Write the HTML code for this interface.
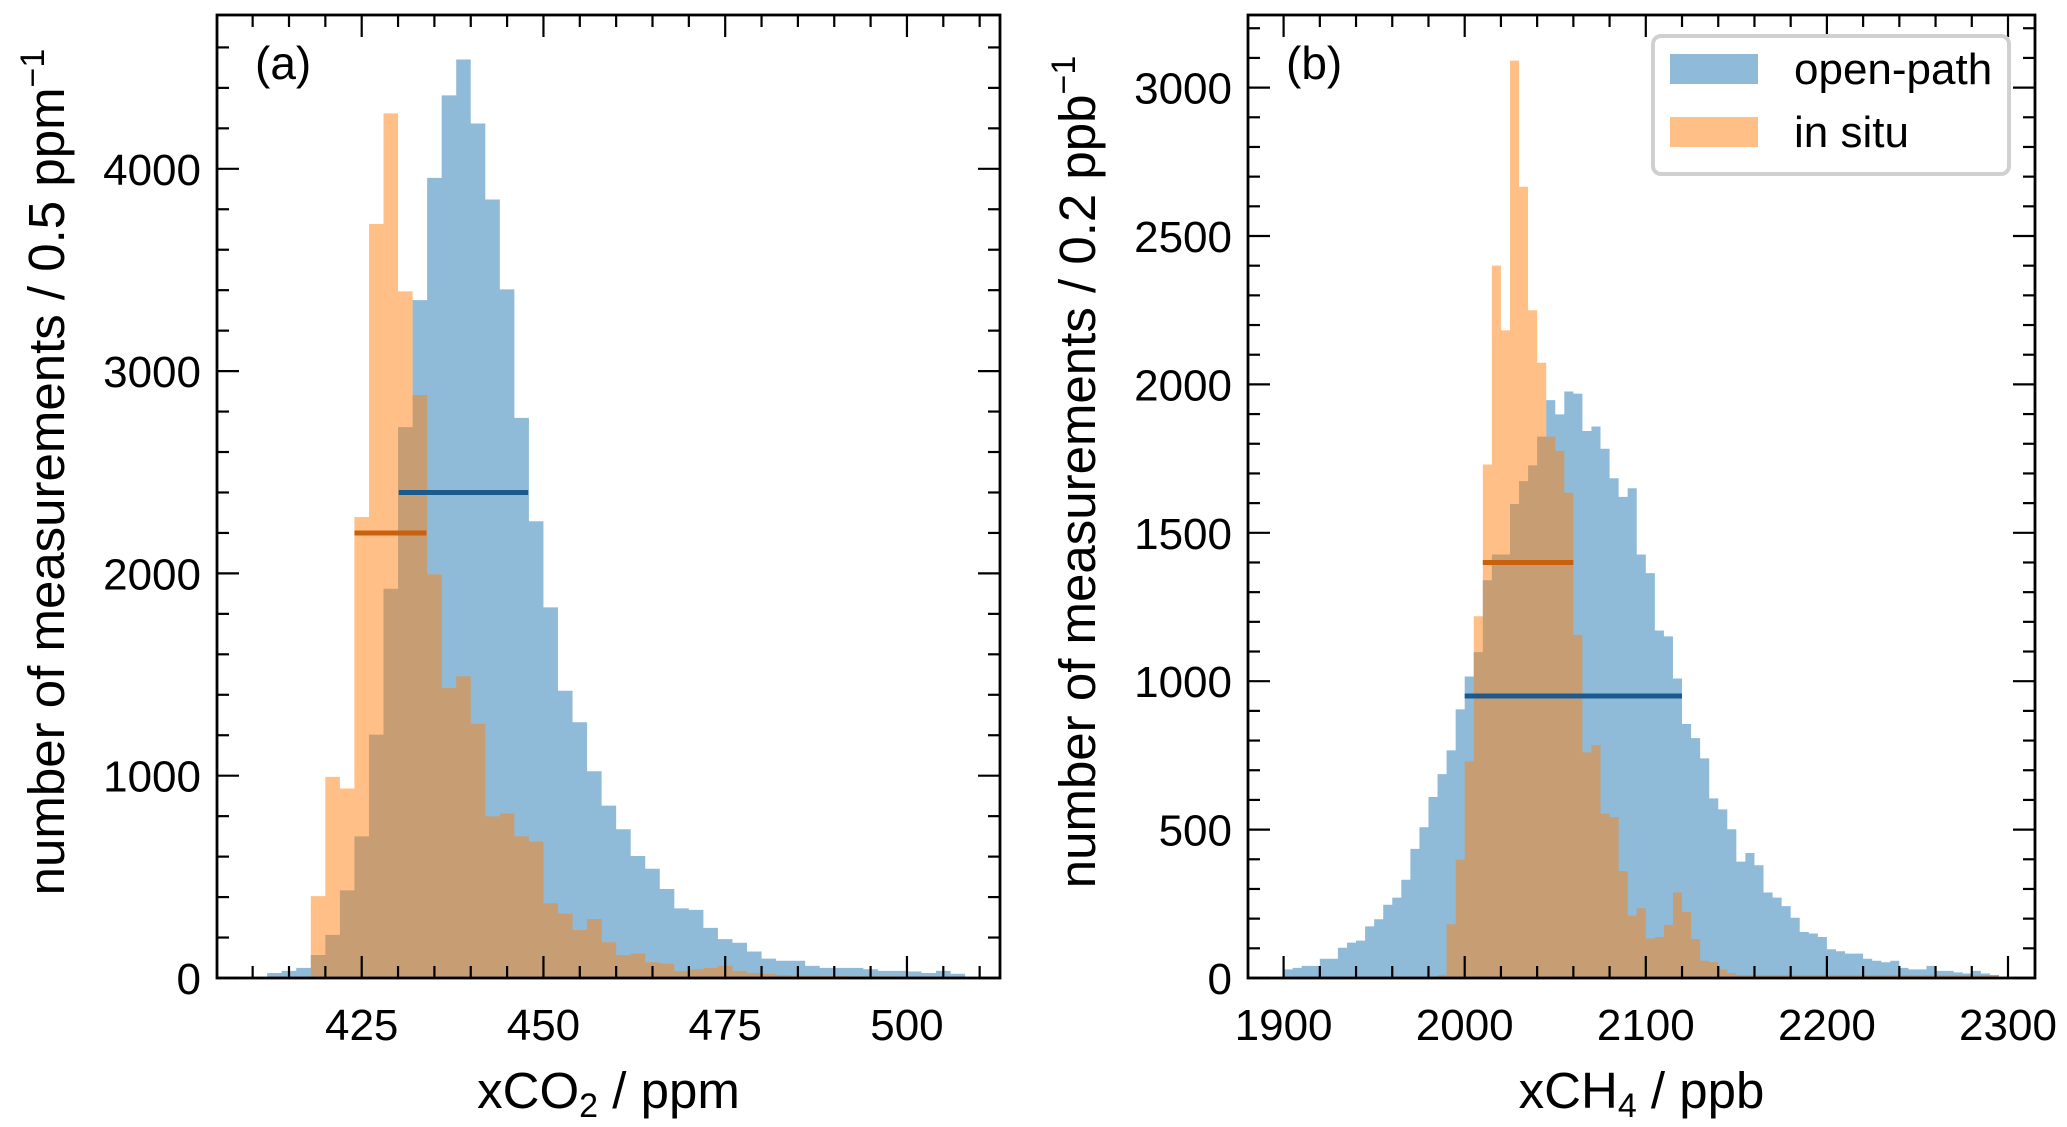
<!DOCTYPE html>
<html><head><meta charset="utf-8"><style>
html,body{margin:0;padding:0;background:#fff;}
svg{display:block;font-family:"Liberation Sans",Arial,sans-serif;}
</style></head><body>
<svg id="fig" width="2067" height="1127" viewBox="0 0 2067 1127" xmlns="http://www.w3.org/2000/svg">
<g id="pa"></g>
<g id="pb"></g>
</svg>
<script>
// ---- Panel (a) CO2 data ----
const co2BinStart = 410;
const co2BinWidth = 2;
const co2OpenPath = [5,25,35,50,114,213,433,700,1203,1924,2723,3351,3955,4363,4540,4224,3848,3404,2769,2258,1832,1420,1264,1022,852,735,603,540,440,344,337,248,192,174,131,96,85,85,60,50,50,50,43,35,35,32,25,35,21];
const co2InSituStart = 418;
const co2InSitu = [405,994,937,2279,3727,4274,3394,2882,1995,1434,1491,1257,799,813,700,674,369,319,238,291,177,114,121,78,71,35,43,50,60,35,25,20,15,12,12,10,10,8,8,8,6,6,5,5,4,4];
const co2XTicks = [425,450,475,500];
const co2YTicks = [0,1000,2000,3000,4000];
const co2OpenIQR = [430.1,447.9,2400];
const co2InSituIQR = [424.0,433.9,2200];
// ---- Panel (b) CH4 data ----
const ch4BinStart = 1900;
const ch4BinWidth = 5;
const ch4OpenPath = [29,34,41,41,65,65,102,119,126,174,198,247,271,331,435,508,610,687,767,905,1016,1098,1340,1427,1427,1597,1674,1727,1824,1947,1899,1976,1969,1843,1858,1783,1684,1621,1650,1427,1364,1171,1151,1009,856,808,740,605,568,501,392,421,380,288,271,242,203,155,150,138,97,90,82,82,65,58,53,58,34,29,29,41,24,24,19,15,24,15,10];
const ch4InSituStart = 1985;
const ch4InSitu = [10,181,399,730,1219,1730,2400,2182,3091,2666,2250,2073,1824,1776,1635,1156,760,784,554,542,360,210,235,133,138,179,288,223,131,58,53,29,17,10,10,10,10,10,10,10,10,10,10,10,10,10,10,10,10,10,10,10,10,10,10,10,10,10,10,10,10,10];
const ch4XTicks = [1900,2000,2100,2200,2300];
const ch4YTicks = [0,500,1000,1500,2000,2500,3000];
const ch4OpenIQR = [2000,2120,950];
const ch4InSituIQR = [2010,2060,1400];

const NS = "http://www.w3.org/2000/svg";
function mk(parent, tag, attrs){ const e=document.createElementNS(NS,tag); for(const k in attrs) e.setAttribute(k,attrs[k]); parent.appendChild(e); return e; }

function panel(g, cfg){
  const L=cfg.L,R=cfg.R,T=cfg.T,B=cfg.B;
  const sx=v=>cfg.x0px+(v-cfg.x0)*cfg.kx;
  const sy=v=>B-v*cfg.ky;
  function bars(vals,start,w,color,name){
    let d='M'+sx(start)+','+B;
    vals.forEach((v,i)=>{
      d+=' L'+sx(start+i*w)+','+sy(v)+' L'+sx(start+(i+1)*w)+','+sy(v);
    });
    d+=' L'+sx(start+vals.length*w)+','+B+' Z';
    const p=mk(g,'path',{d:d,fill:color,'fill-opacity':0.5});
    
    
  }
  bars(cfg.open,cfg.start,cfg.w,'#1f77b4','open-path-histogram');
  bars(cfg.insitu,cfg.inStart,cfg.w,'#ff7f0e','in-situ-histogram');
  let l=mk(g,'line',{x1:sx(cfg.iqrO[0]),x2:sx(cfg.iqrO[1]),y1:sy(cfg.iqrO[2]),y2:sy(cfg.iqrO[2]),stroke:'#1a5a8e','stroke-width':5});
  
  
  l=mk(g,'line',{x1:sx(cfg.iqrI[0]),x2:sx(cfg.iqrI[1]),y1:sy(cfg.iqrI[2]),y2:sy(cfg.iqrI[2]),stroke:'#c8600e','stroke-width':5});
  
  
  const tk=mk(g,'g',{stroke:'#000','stroke-width':2.2});
  
  
  for(let v=cfg.xMinorFrom; sx(v)<=R; v+=cfg.xMinor){
    const x=sx(v); if(x<L) continue;
    const major=cfg.xticks.some(t=>Math.abs(t-v)<1e-6);
    const len=major?22:12;
    mk(tk,'line',{x1:x,x2:x,y1:B,y2:B-len}); mk(tk,'line',{x1:x,x2:x,y1:T,y2:T+len});
  }
  for(let v=0; sy(v)>=T; v+=cfg.yMinor){
    const y=sy(v);
    const major=cfg.yticks.includes(v);
    const len=major?22:12;
    mk(tk,'line',{x1:L,x2:L+len,y1:y,y2:y}); mk(tk,'line',{x1:R,x2:R-len,y1:y,y2:y});
  }
  cfg.xticks.forEach(v=>{
    const t=mk(g,'text',{x:sx(v),y:1040,'font-size':44,'text-anchor':'middle',fill:'#000'}); t.textContent=v;
    
    
  });
  cfg.yticks.forEach(v=>{
    const t=mk(g,'text',{x:L-16,y:sy(v)+16,'font-size':44,'text-anchor':'end',fill:'#000'}); t.textContent=v;
    
    
  });
  const f=mk(g,'rect',{x:L,y:T,width:R-L,height:B-T,fill:'none',stroke:'#000','stroke-width':2.8});
  
  
  const p=mk(g,'text',{x:L+38,y:T+64,'font-size':46,fill:'#000'}); p.textContent=cfg.letter;
  
  
  const xl=mk(g,'text',{x:(L+R)/2,y:1108,'font-size':51,'text-anchor':'middle',fill:'#000'});
  xl.innerHTML=cfg.xlabel;
  
  
  const yl=mk(g,'text',{x:0,y:0,'font-size':51,'text-anchor':'middle',fill:'#000',transform:`translate(${cfg.ylx},472) rotate(-90)`});
  yl.innerHTML=cfg.ylabel;
  
  
}

panel(document.getElementById('pa'),{L:217,R:1000,T:15,B:978,x0:425,x0px:361.7,kx:7.27,ky:0.2023,
  open:co2OpenPath,start:co2BinStart,w:co2BinWidth,insitu:co2InSitu,inStart:co2InSituStart,
  iqrO:co2OpenIQR,iqrI:co2InSituIQR,xticks:co2XTicks,yticks:co2YTicks,xMinorFrom:405,xMinor:5,yMinor:200,
  letter:'(a)',xlabel:'xCO<tspan font-size="34" dy="9">2</tspan><tspan dy="-9"> / ppm</tspan>',
  ylabel:'number of measurements / 0.5 ppm<tspan font-size="34" dy="-20">−1</tspan>',ylx:64});
panel(document.getElementById('pb'),{L:1248,R:2035,T:15,B:978,x0:1900,x0px:1283.6,kx:1.811,ky:0.2968,
  open:ch4OpenPath,start:ch4BinStart,w:ch4BinWidth,insitu:ch4InSitu,inStart:ch4InSituStart,
  iqrO:ch4OpenIQR,iqrI:ch4InSituIQR,xticks:ch4XTicks,yticks:ch4YTicks,xMinorFrom:1880,xMinor:20,yMinor:100,
  letter:'(b)',xlabel:'xCH<tspan font-size="34" dy="9">4</tspan><tspan dy="-9"> / ppb</tspan>',
  ylabel:'number of measurements / 0.2 ppb<tspan font-size="34" dy="-20">−1</tspan>',ylx:1095});

const pb=document.getElementById('pb');
const lg=mk(pb,'g',{});


mk(lg,'rect',{x:1653,y:36,width:356,height:138,rx:8,fill:'#fff',stroke:'#d0d0d0','stroke-width':4});
const e1=mk(lg,'g',{});


mk(e1,'rect',{x:1670,y:54,width:88,height:30,fill:'#1f77b4','fill-opacity':0.5});
let t=mk(e1,'text',{x:1794,y:84,'font-size':44,fill:'#000'}); t.textContent='open-path';
const e2=mk(lg,'g',{});


mk(e2,'rect',{x:1670,y:117,width:88,height:30,fill:'#ff7f0e','fill-opacity':0.5});
t=mk(e2,'text',{x:1794,y:147,'font-size':44,fill:'#000'}); t.textContent='in situ';
</script>
</body></html>
